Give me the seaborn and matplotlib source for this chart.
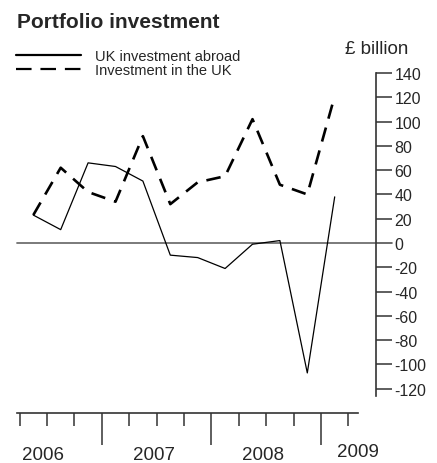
import numpy as np
import pandas as pd
import matplotlib
matplotlib.use("Agg")
import matplotlib.pyplot as plt
from matplotlib.lines import Line2D
import seaborn as sns

# quarterly data, 2006 Q2 .. 2009 Q1 (£ billion)
quarters = ["2006Q2", "2006Q3", "2006Q4",
            "2007Q1", "2007Q2", "2007Q3", "2007Q4",
            "2008Q1", "2008Q2", "2008Q3", "2008Q4",
            "2009Q1"]
uk_abroad = [23, 11, 66, 63, 51, -10, -12, -21, -1, 2, -107, 38]
in_uk = [23, 62, 42, 34, 88, 32, 50, 55, 102, 48, 40, 121]
years = ["2006", "2007", "2008", "2009"]
year_label_pos = [0.35, 4.4, 8.4, 11.85]
year_label_y = [-174, -174, -174.5, -172]
y_ticks = [-120, -100, -80, -60, -40, -20, 0, 20, 40, 60, 80, 100, 120, 140]

df = pd.DataFrame({
    "q": np.arange(len(quarters)),
    "UK investment abroad": uk_abroad,
    "Investment in the UK": in_uk,
})

sns.set_theme(style="white")
plt.rcParams["font.family"] = ["Liberation Sans", "DejaVu Sans"]

fig = plt.figure(figsize=(4.37, 4.64), dpi=100)
ax = fig.add_axes([17.4 / 437, 50 / 464, 358.4 / 437, 340 / 464])

ax.axhline(0, xmin=0, xmax=1.045, color="#707070", lw=1.3, clip_on=False, zorder=1)

sns.lineplot(data=df, x="q", y="UK investment abroad", ax=ax,
             color="black", lw=0.9, zorder=3)
sns.lineplot(data=df, x="q", y="Investment in the UK", ax=ax,
             color="black", lw=1.9, linestyle=(0, (5.5, 3.5)), zorder=3)

ax.set_xlim(-0.58, 12.5)
ax.set_ylim(-140, 140)
ax.set_xlabel("")
ax.set_ylabel("")

# right-hand value axis
for s in ["top", "left"]:
    ax.spines[s].set_visible(False)
ax.spines["right"].set_bounds(-126, 140)
ax.spines["right"].set_color("#333333")
ax.spines["right"].set_linewidth(1.2)
ax.yaxis.tick_right()
ax.set_yticks(y_ticks)
ax.set_yticklabels([str(v) for v in y_ticks], fontsize=11.5)
ax.tick_params(axis="y", direction="out", length=11.5, width=1.1,
               color="#333333", pad=2, right=True)

# time axis at the bottom
ax.spines["bottom"].set_bounds(-0.58, 11.85)
ax.spines["bottom"].set_color("#333333")
ax.spines["bottom"].set_linewidth(1.2)
bounds = np.arange(len(quarters) + 1) - 0.5
major = [b for b in bounds if b in (2.5, 6.5, 10.5)]
minor = [b for b in bounds if b not in (2.5, 6.5, 10.5)]
ax.set_xticks(major)
ax.set_xticks(minor, minor=True)
ax.set_xticklabels([])
ax.tick_params(axis="x", which="major", direction="out", length=23, width=1.1,
               color="#333333", bottom=True)
ax.tick_params(axis="x", which="minor", direction="out", length=9.5, width=1.1,
               color="#333333", bottom=True)

for lab, xp, yp in zip(years, year_label_pos, year_label_y):
    ax.text(xp, yp, lab, ha="center", va="center", fontsize=13.5,
            clip_on=False)

fig.text(17 / 437, 1 - 22 / 464, "Portfolio investment", fontsize=15,
         fontweight="bold", va="center", ha="left")
fig.text(345 / 437, 1 - 50 / 464, "£ billion", fontsize=13.5,
         va="center", ha="left")

handles = [Line2D([], [], color="black", lw=1.6),
           Line2D([], [], color="black", lw=1.6, linestyle=(0, (7, 4)))]
fig.legend(handles, ["UK investment abroad", "Investment in the UK"],
           loc="upper left", bbox_to_anchor=(10 / 437, 1 - 44 / 464),
           frameon=False, fontsize=10.5, handlelength=4.5, handletextpad=0.95,
           labelspacing=0.0, borderaxespad=0)

fig.savefig("out.png", dpi=100)
